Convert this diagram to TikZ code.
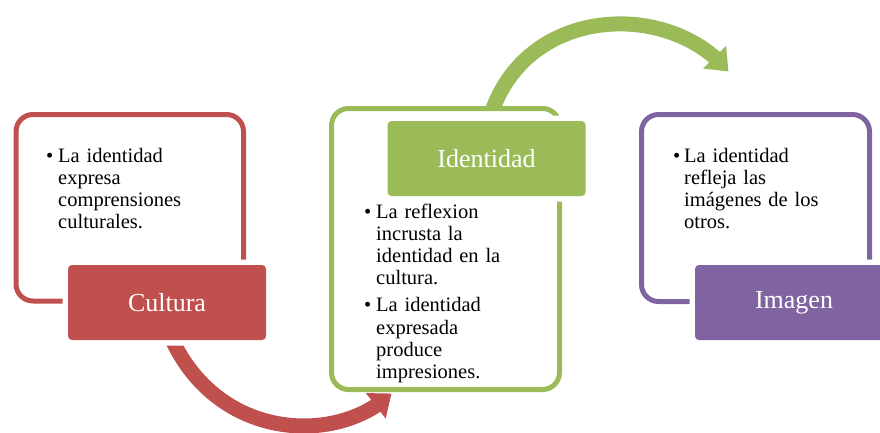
\documentclass[tikz,border=0pt]{standalone}
\usepackage{fontspec}
\setmainfont{Liberation Serif}
\usetikzlibrary{arrows.meta,backgrounds,calc,bending}
\definecolor{cred}{HTML}{C0504D}
\definecolor{cgreen}{HTML}{9BBB59}
\definecolor{cpurple}{HTML}{8064A2}
\begin{document}
\begin{tikzpicture}[x=1pt,y=-1pt,
  framebox/.style={draw=#1, line width=5pt, rounded corners=17pt, fill=white, inner sep=0pt},
  labelbox/.style={fill=#1, rounded corners=4pt, inner sep=0pt, text=white,
    minimum width=198pt, minimum height=75pt, font=\fontsize{26}{30}\selectfont,
    preaction={draw=white, line width=11pt, rounded corners=4pt}},
  bul/.style={anchor=base west, inner sep=0pt, font=\fontsize{20.5}{22.3}\selectfont},
  txt/.style={anchor=base west, inner sep=0pt, text width=200pt, align=left,
    font=\fontsize{20.5}{22.3}\selectfont},
  bigarrow/.style={draw=#1, line width=15pt, line cap=butt,
    -{Triangle[length=20pt,width=31pt,fill=#1]}}]
\useasboundingbox (0,0) rectangle (880,432);

% frames
\node[framebox=cred, minimum width=227.5pt, minimum height=186.5pt] (fcul) at (129.75,207.75) {};
\node[framebox=cgreen, minimum width=228pt, minimum height=281pt] (fide) at (445.5,249) {};
\node[framebox=cpurple, minimum width=228pt, minimum height=187pt] (fima) at (755.5,208) {};

% labels
\node[labelbox=cred] (lcul) at (167,302.5) {Cultura};
\node[labelbox=cgreen] (lide) at (486.5,158.5) {Identidad};
\node[labelbox=cpurple] (lima) at (794,302.5) {Imagen};

% texts
\node[bul] (b1) at (46,162) {\textbullet};
\node[txt] (t1) at (58,162) {La identidad\\expresa\\comprensiones\\culturales.};
\node[bul] (b2) at (364,218) {\textbullet};
\node[txt] (t2) at (376,218) {La reflexion\\incrusta la\\identidad en la\\cultura.};
\node[bul] (b3) at (364,311.7) {\textbullet};
\node[txt] (t3) at (376,311.7) {La identidad\\expresada\\produce\\impresiones.};
\node[bul] (b4) at (673,162) {\textbullet};
\node[txt] (t4) at (684,162) {La identidad\\refleja las\\imágenes de los\\otros.};

% arrows
\begin{scope}[on background layer]
\fill[white] (0,0) rectangle (880,432);
\draw[bigarrow=cred] ($(lcul.south)+(1,-10)$) .. controls (212,440) and (335,447) .. ($(fide.south west)+(62.5,1.5)$);
\draw[bigarrow=cgreen] ($(lide.north)+(1.5,4)$) .. controls (518,5) and (668,-2) .. ($(fima.north west)+(89.5,-40.5)$);
\end{scope}
\end{tikzpicture}
\end{document}
